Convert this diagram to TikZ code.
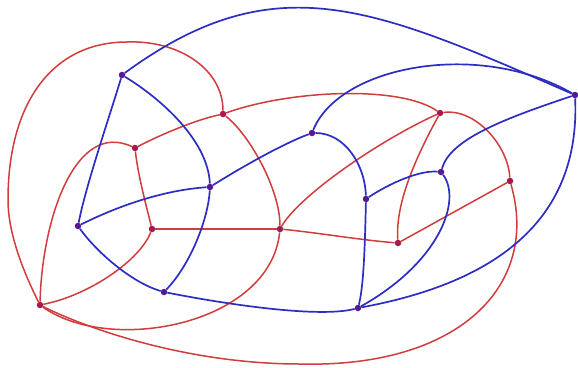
\documentclass[tikz,border=0pt]{standalone}
\definecolor{eblue}{RGB}{45,45,195}
\definecolor{ered}{RGB}{210,60,60}
\definecolor{bdot}{RGB}{85,25,150}
\definecolor{rdot}{RGB}{165,25,80}
\begin{document}
\begin{tikzpicture}[x=1pt,y=-1pt,
  bv/.style={circle,fill=bdot,inner sep=0pt,minimum size=6.5pt},
  rv/.style={circle,fill=rdot,inner sep=0pt,minimum size=6.5pt},
  bedge/.style={draw=eblue,line width=1.7pt},
  redge/.style={draw=ered,line width=1.5pt}]
\useasboundingbox[fill=white] (0,0) rectangle (578,367);
% primal (blue) vertices
\node[bv] (B1) at (122,75) {};
\node[bv] (B2) at (78,226) {};
\node[bv] (B3) at (210,187) {};
\node[bv] (B4) at (312,133) {};
\node[bv] (B5) at (366,199) {};
\node[bv] (B6) at (441,172) {};
\node[bv] (B7) at (575,95) {};
\node[bv] (B8) at (164,292) {};
\node[bv] (B9) at (358,308) {};
% dual (red) vertices
\node[rv] (R1) at (40,305) {};
\node[rv] (R2) at (135,148) {};
\node[rv] (R3) at (152,229) {};
\node[rv] (R4) at (223,114) {};
\node[rv] (R5) at (280,229) {};
\node[rv] (R6) at (440,113) {};
\node[rv] (R7) at (398,243) {};
\node[rv] (R8) at (510,181) {};
\coordinate (Lft) at (8,200);
\coordinate (Top) at (127,42);
\coordinate (Bot) at (300,364);
% red edges
\draw[redge] (R1) .. controls (25,275) and (8,235) .. (Lft)
  .. controls (8,102) and (53,42) .. (Top)
  .. controls (180,40) and (223,70) .. (R4);
\draw[redge] (R1) .. controls (42,220) and (75,120) .. (R2);
\draw[redge] (R2) .. controls (160,135) and (195,120) .. (R4);
\draw[redge] (R2) .. controls (138,175) and (146,205) .. (R3);
\draw[redge] (R3) .. controls (140,260) and (90,295) .. (R1);
\draw[redge] (R3) -- (R5);
\draw[redge] (R4) .. controls (250,135) and (280,190) .. (R5);
\draw[redge] (R1) .. controls (110,355) and (270,325) .. (R5);
\draw[redge] (R4) .. controls (290,90) and (400,85) .. (R6);
\draw[redge] (R5) .. controls (300,195) and (380,140) .. (R6);
\draw[redge] (R5) .. controls (320,233) and (360,240) .. (R7);
\draw[redge] (R6) .. controls (420,150) and (395,200) .. (R7);
\draw[redge] (R6) .. controls (475,108) and (508,145) .. (R8);
\draw[redge] (R7) -- (R8);
\draw[redge] (R8) .. controls (540,285) and (460,368) .. (Bot)
  .. controls (190,364) and (90,330) .. (R1);
% blue edges
\draw[bedge] (B1) .. controls (275,-37) and (373,7) .. (B7);
\draw[bedge] (B1) .. controls (110,115) and (86,185) .. (B2);
\draw[bedge] (B1) .. controls (160,98) and (208,140) .. (B3);
\draw[bedge] (B2) .. controls (120,205) and (165,190) .. (B3);
\draw[bedge] (B3) .. controls (245,165) and (285,143) .. (B4);
\draw[bedge] (B3) .. controls (208,220) and (190,265) .. (B8);
\draw[bedge] (B2) .. controls (95,250) and (130,282) .. (B8);
\draw[bedge] (B8) .. controls (230,305) and (320,318) .. (B9);
\draw[bedge] (B4) .. controls (340,65) and (480,40) .. (B7);
\draw[bedge] (B4) .. controls (345,133) and (365,165) .. (B5);
\draw[bedge] (B5) .. controls (365,240) and (364,285) .. (B9);
\draw[bedge] (B5) .. controls (390,183) and (420,170) .. (B6);
\draw[bedge] (B6) .. controls (450,140) and (500,120) .. (B7);
\draw[bedge] (B6) .. controls (462,200) and (440,262) .. (B9);
\draw[bedge] (B7) .. controls (580,210) and (510,280) .. (B9);
\end{tikzpicture}
\end{document}
